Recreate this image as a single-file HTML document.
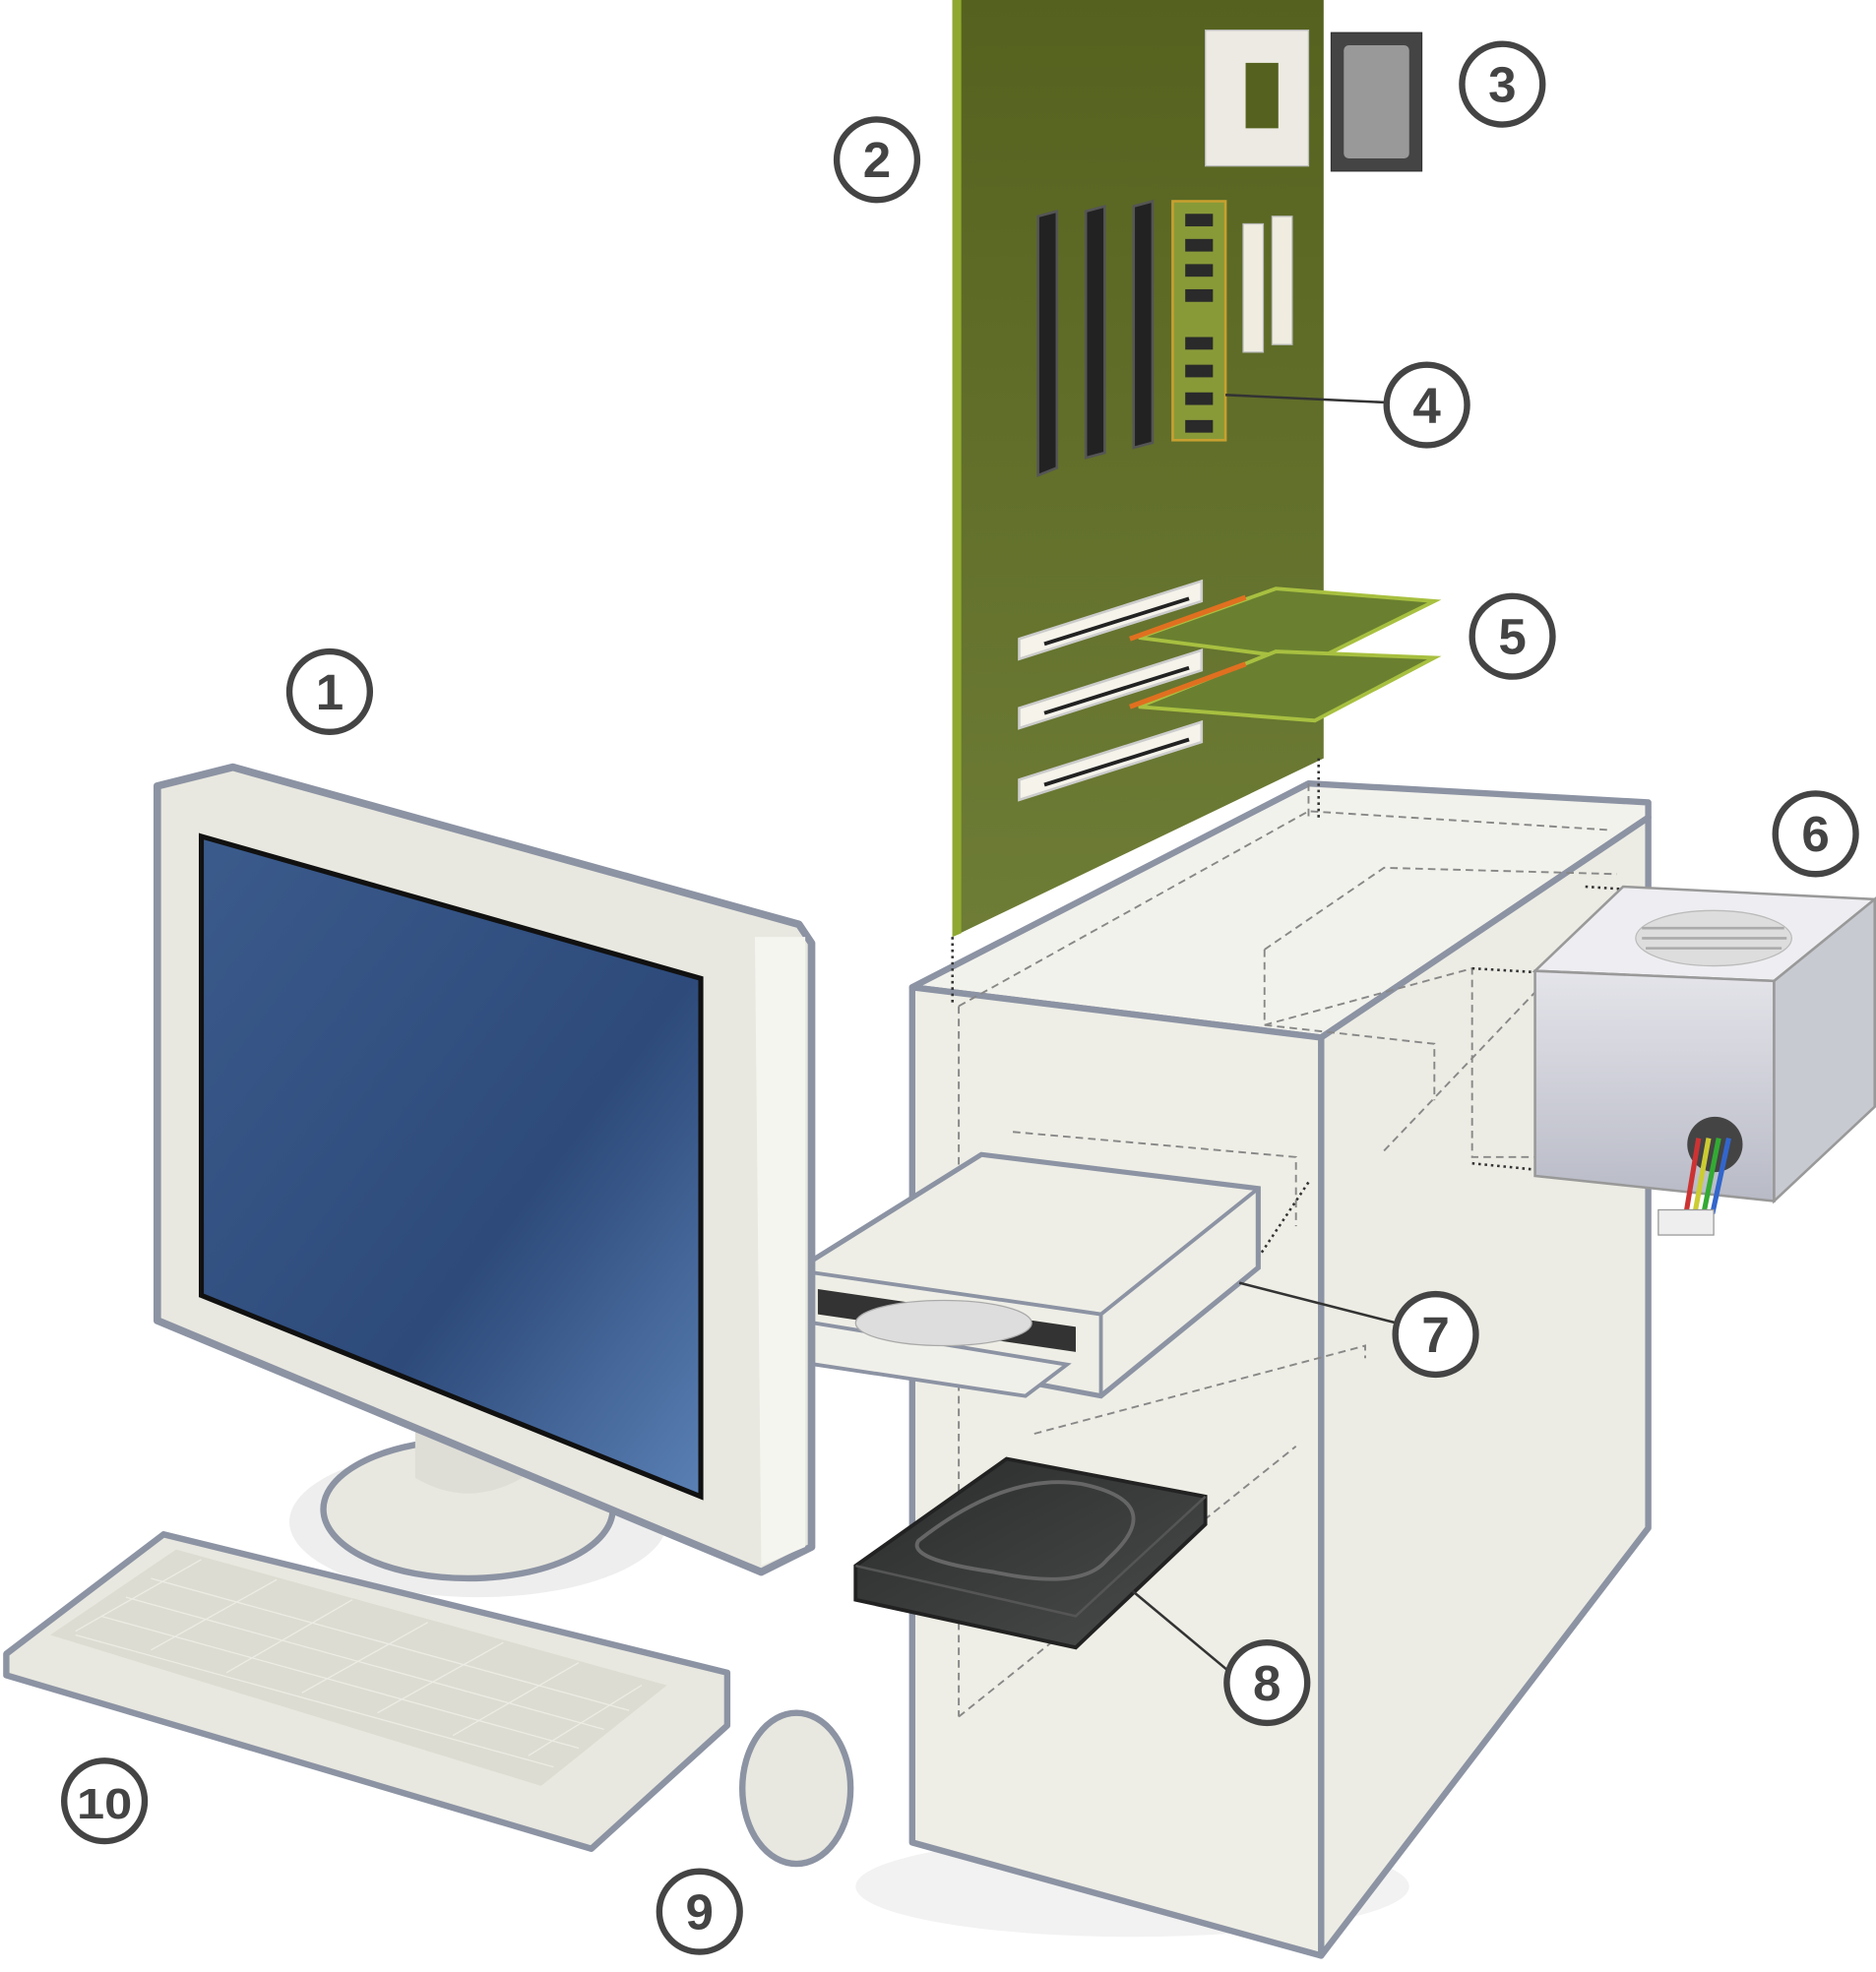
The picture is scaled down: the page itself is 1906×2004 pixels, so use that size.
<!DOCTYPE html>
<html><head><meta charset="utf-8"><style>html,body{margin:0;padding:0;background:#fff}svg{display:block}</style></head>
<body>
<svg width="1906" height="2004" viewBox="0 0 1491 1568" preserveAspectRatio="none" xmlns="http://www.w3.org/2000/svg">
<defs>
<linearGradient id="mb" x1="0" y1="0" x2="0" y2="1"><stop offset="0" stop-color="#55621f"/><stop offset="1" stop-color="#6e7d36"/></linearGradient>
<linearGradient id="scr" x1="0" y1="0" x2="1" y2="1"><stop offset="0" stop-color="#3b5b8c"/><stop offset="0.6" stop-color="#2d4a7a"/><stop offset="1" stop-color="#5a80b4"/></linearGradient>
<linearGradient id="psu" x1="0" y1="0" x2="0" y2="1"><stop offset="0" stop-color="#e4e4ea"/><stop offset="1" stop-color="#b8bac6"/></linearGradient>
<linearGradient id="hdd" x1="0" y1="0" x2="1" y2="1"><stop offset="0" stop-color="#2a2c2c"/><stop offset="1" stop-color="#4a4c4c"/></linearGradient>
</defs>
<ellipse cx="380" cy="1210" rx="150" ry="60" fill="#eee"/>
<ellipse cx="900" cy="1500" rx="220" ry="40" fill="#f2f2f2"/>
<polygon points="757,0 1052,0 1052,603 757,745" fill="url(#mb)"/>
<polygon points="757,0 764,0 764,742 757,745" fill="#8fa830"/>
<g fill="#222" stroke="#555" stroke-width="2">
<polygon points="825,172 840,168 840,372 825,378"/>
<polygon points="863,168 878,164 878,360 863,364"/>
<polygon points="901,164 916,160 916,352 901,356"/>
</g>
<g><rect x="932" y="160" width="42" height="190" fill="#889a38" stroke="#c8a030" stroke-width="2"/>
<g fill="#2a2a2a"><rect x="942" y="170" width="22" height="10"/><rect x="942" y="190" width="22" height="10"/><rect x="942" y="210" width="22" height="10"/><rect x="942" y="230" width="22" height="10"/><rect x="942" y="268" width="22" height="10"/><rect x="942" y="290" width="22" height="10"/><rect x="942" y="312" width="22" height="10"/><rect x="942" y="334" width="22" height="10"/></g></g>
<rect x="988" y="178" width="16" height="102" fill="#f0ede0" stroke="#bbb"/>
<rect x="1011" y="172" width="16" height="102" fill="#f0ede0" stroke="#bbb"/>
<rect x="958" y="24" width="82" height="108" fill="#eceae2" stroke="#bbb"/>
<rect x="990" y="50" width="26" height="52" fill="#55621f"/>
<rect x="1058" y="26" width="72" height="110" fill="#444" stroke="#333"/>
<rect x="1068" y="36" width="52" height="90" fill="#999" rx="4"/>
<g fill="#f5f3ea" stroke="#ccc" stroke-width="2">
<polygon points="810,508 955,462 955,478 810,524"/>
<polygon points="810,563 955,517 955,533 810,579"/>
<polygon points="810,620 955,574 955,590 810,636"/>
</g>
<g stroke="#222" stroke-width="3"><line x1="830" y1="512" x2="945" y2="476"/><line x1="830" y1="567" x2="945" y2="531"/><line x1="830" y1="624" x2="945" y2="588"/></g>
<polygon points="905,507 1014,468 1140,478 1045,525" fill="#6a8030" stroke="#a8c040" stroke-width="3"/>
<polygon points="905,562 1014,518 1140,523 1045,573" fill="#6a8030" stroke="#a8c040" stroke-width="3"/>
<line x1="898" y1="508" x2="990" y2="475" stroke="#e07020" stroke-width="4"/>
<line x1="898" y1="562" x2="990" y2="528" stroke="#e07020" stroke-width="4"/>
<g stroke="#8c93a3" stroke-width="5" stroke-linejoin="round">
<polygon points="725,785 1040,623 1310,638 1310,650 1050,825" fill="#f2f2ec"/>
<polygon points="1050,825 1310,650 1310,1215 1050,1555" fill="#ecece4"/>
<polygon points="725,785 1050,825 1050,1555 725,1465" fill="#eeeee6"/>
</g>
<g fill="none" stroke="#888" stroke-width="1.5" stroke-dasharray="6,4">
<polyline points="762,800 1040,645 1280,660"/>
<polyline points="1005,755 1100,690 1285,695"/>
<polyline points="1005,755 1005,815 1140,830 1140,875"/>
<polyline points="805,900 1030,920 1030,975"/>
<polyline points="822,1140 1085,1070 1085,1080"/>
<line x1="762" y1="800" x2="762" y2="1365"/>
<line x1="762" y1="1365" x2="1030" y2="1150"/>
<line x1="1040" y1="623" x2="1040" y2="650"/>
<polyline points="1005,815 1170,770 1170,920 1220,920"/>
<polyline points="1100,915 1300,705"/>
</g>
<g fill="none" stroke="#333" stroke-width="2" stroke-dasharray="2,3">
<line x1="757" y1="745" x2="757" y2="800"/><line x1="1048" y1="603" x2="1048" y2="650"/>
<line x1="1170" y1="770" x2="1220" y2="773"/><line x1="1170" y1="925" x2="1220" y2="930"/>
<line x1="1260" y1="705" x2="1305" y2="708"/>
<line x1="1000" y1="1000" x2="1040" y2="940"/>
</g>
<polygon points="1220,772 1290,705 1490,715 1410,780" fill="#eeeef2" stroke="#999" stroke-width="2"/>
<polygon points="1220,772 1410,780 1410,955 1220,935" fill="url(#psu)" stroke="#999" stroke-width="2"/>
<polygon points="1410,780 1490,715 1490,880 1410,955" fill="#c8cad2" stroke="#999" stroke-width="2"/>
<ellipse cx="1362" cy="746" rx="62" ry="22" fill="#ddd" stroke="#bbb"/>
<g stroke="#aaa" stroke-width="2"><line x1="1305" y1="738" x2="1418" y2="738"/><line x1="1305" y1="746" x2="1420" y2="746"/><line x1="1308" y1="754" x2="1416" y2="754"/></g>
<circle cx="1363" cy="910" r="22" fill="#444"/>
<g stroke-width="4" fill="none"><path d="M1350,905 L1340,965" stroke="#c33"/><path d="M1358,905 L1347,965" stroke="#cc3"/><path d="M1366,905 L1354,965" stroke="#3a3"/><path d="M1374,905 L1361,965" stroke="#36c"/></g>
<rect x="1318" y="962" width="44" height="20" fill="#eee" stroke="#999"/>
<polygon points="633,1010 780,918 1000,945 1000,1008 875,1110 633,1065" fill="#eeeee6" stroke="#8c93a3" stroke-width="4"/>
<polyline points="633,1010 875,1045 1000,945" fill="none" stroke="#8c93a3" stroke-width="3"/>
<line x1="875" y1="1045" x2="875" y2="1110" stroke="#8c93a3" stroke-width="3"/>
<polygon points="650,1025 855,1055 855,1075 650,1045" fill="#333"/>
<polygon points="615,1060 635,1050 848,1085 815,1110 615,1080" fill="#f0f0ea" stroke="#8c93a3" stroke-width="3"/>
<ellipse cx="750" cy="1052" rx="70" ry="18" fill="#ddd" stroke="#aaa"/>
<polygon points="680,1245 800,1160 958,1190 958,1212 855,1310 680,1272" fill="url(#hdd)" stroke="#222" stroke-width="3"/>
<polyline points="680,1245 855,1285 958,1190" fill="none" stroke="#555" stroke-width="2"/>
<path d="M730,1225 Q800,1170 860,1180 Q930,1195 880,1240 Q860,1265 790,1250 Q720,1240 730,1225Z" fill="none" stroke="#666" stroke-width="3"/>
<ellipse cx="372" cy="1200" rx="115" ry="55" fill="#e8e8e0" stroke="#8c93a3" stroke-width="5"/>
<path d="M330,1130 L330,1175 Q372,1200 415,1175 L415,1130Z" fill="#deded6"/>
<polygon points="125,625 185,610 635,735 645,750 645,1230 605,1250 125,1050" fill="#e8e8e0" stroke="#8c93a3" stroke-width="6" stroke-linejoin="round"/>
<polygon points="600,745 640,745 640,1230 605,1245" fill="#f5f5ef"/>
<polygon points="160,665 557,778 557,1190 160,1030" fill="url(#scr)" stroke="#111" stroke-width="4"/>
<polygon points="5,1315 130,1220 578,1330 578,1372 470,1470 5,1332" fill="#e8e8e0" stroke="#8c93a3" stroke-width="5" stroke-linejoin="round"/>
<polygon points="40,1300 140,1232 530,1340 430,1420" fill="#dcdcd2"/>
<g stroke="#f4f4ee" stroke-width="1" opacity="0.7">
<line x1="60" y1="1297" x2="160" y2="1240"/><line x1="120" y1="1312" x2="220" y2="1256"/><line x1="180" y1="1330" x2="280" y2="1272"/><line x1="240" y1="1346" x2="340" y2="1290"/><line x1="300" y1="1362" x2="400" y2="1306"/><line x1="360" y1="1380" x2="460" y2="1322"/><line x1="420" y1="1396" x2="510" y2="1340"/>
<line x1="60" y1="1300" x2="440" y2="1405"/><line x1="80" y1="1285" x2="460" y2="1390"/><line x1="100" y1="1270" x2="480" y2="1375"/><line x1="120" y1="1255" x2="500" y2="1360"/>
</g>
<ellipse cx="633" cy="1422" rx="43" ry="60" fill="#e8e8e0" stroke="#8c93a3" stroke-width="5"/>
<g stroke="#333" stroke-width="2"><line x1="974" y1="314" x2="1102" y2="320"/><line x1="985" y1="1020" x2="1110" y2="1052"/><line x1="900" y1="1265" x2="978" y2="1330"/></g>
<g fill="#fff" stroke="#444" stroke-width="5">
<circle cx="262" cy="550" r="32"/><circle cx="697" cy="127" r="32"/><circle cx="1194" cy="67" r="32"/><circle cx="1134" cy="322" r="32"/><circle cx="1202" cy="506" r="32"/><circle cx="1443" cy="663" r="32"/><circle cx="1141" cy="1061" r="32"/><circle cx="1007" cy="1338" r="32"/><circle cx="556" cy="1520" r="32"/><circle cx="83" cy="1432" r="32"/>
</g>
<g fill="#444" font-family="Liberation Sans, sans-serif" font-weight="bold" font-size="40" text-anchor="middle">
<text x="262" y="564">1</text><text x="697" y="141">2</text><text x="1194" y="81">3</text><text x="1134" y="336">4</text><text x="1202" y="520">5</text><text x="1443" y="677">6</text><text x="1141" y="1075">7</text><text x="1007" y="1352">8</text><text x="556" y="1534">9</text><text x="83" y="1446" font-size="34" textLength="44" lengthAdjust="spacingAndGlyphs">10</text>
</g>
</svg>
</body></html>
